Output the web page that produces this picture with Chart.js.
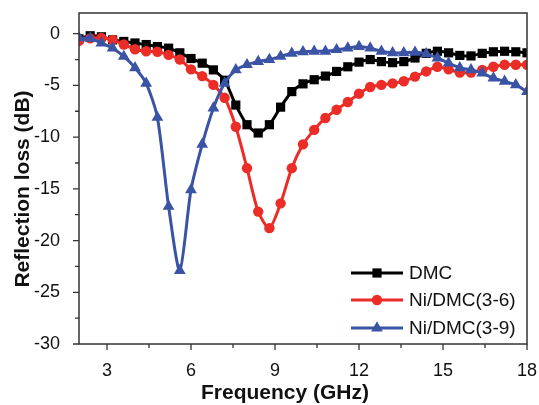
<!DOCTYPE html>
<html>
<head>
<meta charset="utf-8">
<script src="https://cdn.jsdelivr.net/npm/chart.js@4.4.1/dist/chart.umd.min.js"></script>
<style>
    html, body { margin: 0; padding: 0; background: #fff; }
</style>
</head>
<body>
<canvas id="rlChart" width="539" height="405"></canvas>
<script>
// Frequency points (GHz)
const freq = [2.0, 2.4, 2.8, 3.2, 3.6, 4.0, 4.4, 4.8, 5.2, 5.6, 6.0, 6.4, 6.8, 7.2, 7.6, 8.0, 8.4, 8.8, 9.2, 9.6,
    10.0, 10.4, 10.8, 11.2, 11.6, 12.0, 12.4, 12.8, 13.2, 13.6, 14.0, 14.4, 14.8, 15.2, 15.6, 16.0, 16.4, 16.8, 17.2, 17.6, 18.0];

// Reflection loss (dB) for each sample
const dmc = [-0.5, -0.2, -0.3, -0.6, -0.75, -0.9, -1.05, -1.25, -1.4, -1.85, -2.4, -2.85, -3.5, -4.5, -6.9, -8.8, -9.6, -8.8, -7.1, -5.6,
    -4.85, -4.45, -4.1, -3.65, -3.2, -2.75, -2.5, -2.7, -2.8, -2.7, -2.35, -1.9, -1.7, -1.85, -2.1, -2.15, -1.9, -1.75, -1.7, -1.75, -1.85];
const ni36 = [-0.7, -0.45, -0.4, -0.6, -1.05, -1.5, -1.7, -1.75, -2.05, -2.5, -3.45, -4.1, -4.95, -6.2, -9.0, -13.0, -17.2, -18.8, -16.4, -13.0,
    -10.7, -9.3, -8.15, -7.35, -6.6, -5.8, -5.15, -4.95, -4.8, -4.6, -4.15, -3.65, -3.2, -3.45, -3.75, -3.75, -3.5, -3.2, -3.0, -3.0, -3.0];
const ni39 = [-0.4, -0.45, -0.9, -1.4, -2.2, -3.3, -4.8, -8.1, -16.7, -22.9, -15.1, -10.7, -7.2, -4.8, -3.5, -3.0, -2.7, -2.5, -2.2, -1.9,
    -1.75, -1.7, -1.7, -1.55, -1.4, -1.25, -1.4, -1.7, -1.85, -1.85, -1.8, -1.95, -2.35, -2.85, -3.3, -3.5, -3.8, -4.3, -4.6, -4.95, -5.6];

const seriesNames = ['DMC', 'Ni/DMC(3-6)', 'Ni/DMC(3-9)'];
const xTicks = [3, 4.5, 6, 7.5, 9, 10.5, 12, 13.5, 15, 16.5, 18];
const yTicks = [-30, -27.5, -25, -22.5, -20, -17.5, -15, -12.5, -10, -7.5, -5, -2.5, 0];

const colors = ['#000000', '#ec2c26', '#3a53a4'];
const styles = ['rect', 'circle', 'triangle'];
const radii = [6.5, 5.2, 6.8];

const toPoints = arr => freq.map((f, i) => ({ x: f, y: arr[i] }));

// no automatic label overflow padding, the plot box is fixed
const noPad = s => {
    s.paddingTop = 0;
    s.paddingBottom = 0;
    s.paddingLeft = 0;
    s.paddingRight = 0;
};

// frame, ticks, axis titles and legend
const framePlugin = {
    id: 'frame',
    afterDraw(chart) {
        const { ctx, chartArea: a, scales } = chart;
        ctx.save();
        ctx.strokeStyle = '#333';
        ctx.lineWidth = 1.5;
        ctx.strokeRect(a.left, a.top, a.right - a.left, a.bottom - a.top);

        ctx.lineWidth = 1.3;
        ctx.beginPath();
        scales.x.ticks.forEach(t => {
            const px = scales.x.getPixelForValue(t.value);
            const len = t.label !== '' ? 6 : 4;
            ctx.moveTo(px, a.bottom);
            ctx.lineTo(px, a.bottom + len);
        });
        scales.y.ticks.forEach(t => {
            const py = scales.y.getPixelForValue(t.value);
            const len = t.label !== '' ? 6 : 4;
            ctx.moveTo(a.left, py);
            ctx.lineTo(a.left - len, py);
        });
        ctx.stroke();

        // axis titles
        ctx.fillStyle = '#111';
        ctx.font = "bold 21px 'Liberation Sans', Arial, sans-serif";
        ctx.textAlign = 'center';
        ctx.textBaseline = 'middle';
        ctx.fillText('Frequency (GHz)', 285, 393);
        ctx.translate(23, 189);
        ctx.rotate(-Math.PI / 2);
        ctx.fillText('Reflection loss (dB)', 0, 0);
        ctx.setTransform(1, 0, 0, 1, 0, 0);

        // legend
        ctx.font = "19px 'Liberation Sans', Arial, sans-serif";
        ctx.textAlign = 'left';
        const rows = [273, 300, 328];
        seriesNames.forEach((name, i) => {
            const y = rows[i];
            ctx.strokeStyle = colors[i];
            ctx.lineWidth = 3;
            ctx.beginPath();
            ctx.moveTo(351, y);
            ctx.lineTo(403, y);
            ctx.stroke();
            ctx.fillStyle = colors[i];
            Chart.helpers.drawPoint(ctx, { pointStyle: styles[i], radius: radii[i], borderWidth: 0 }, 377, y);
            ctx.fillStyle = '#111';
            ctx.fillText(name, 409, y + 1);
        });
        ctx.restore();
    }
};

new Chart(document.getElementById('rlChart'), {
    type: 'line',
    data: {
        datasets: [dmc, ni36, ni39].map((arr, i) => ({
            label: seriesNames[i],
            data: toPoints(arr),
            borderColor: colors[i],
            backgroundColor: colors[i],
            pointBackgroundColor: colors[i],
            pointBorderWidth: 0,
            pointStyle: styles[i],
            pointRadius: radii[i],
            borderWidth: 3,
            tension: 0.25,
            order: 3 - i
        }))
    },
    options: {
        responsive: false,
        animation: false,
        layout: { padding: { top: 13, right: 12, left: 0, bottom: 0 } },
        plugins: {
            legend: { display: false },
            tooltip: { enabled: false }
        },
        scales: {
            x: {
                type: 'linear',
                min: 2,
                max: 18,
                afterBuildTicks: s => { s.ticks = xTicks.map(v => ({ value: v })); },
                afterFit: s => { s.height = 61; noPad(s); },
                grid: { display: false },
                border: { display: false },
                ticks: {
                    autoSkip: false,
                    maxRotation: 0,
                    padding: 8,
                    color: '#111',
                    font: { family: "'Liberation Sans', Arial, sans-serif", size: 18 },
                    callback: v => (v % 3 === 0 ? String(v) : '')
                }
            },
            y: {
                min: -30,
                max: 2,
                afterBuildTicks: s => { s.ticks = yTicks.map(v => ({ value: v })); },
                afterFit: s => { s.width = 79; noPad(s); },
                grid: { display: false },
                border: { display: false },
                ticks: {
                    autoSkip: false,
                    padding: 11,
                    color: '#111',
                    font: { family: "'Liberation Sans', Arial, sans-serif", size: 18 },
                    callback: v => (v % 5 === 0 ? String(v) : '')
                }
            }
        }
    },
    plugins: [framePlugin]
});
</script>
</body>
</html>
